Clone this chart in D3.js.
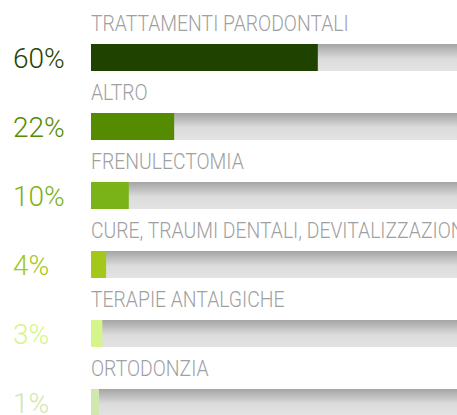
<!DOCTYPE html>
<html>
<head>
<meta charset="utf-8">
<script src="https://cdn.jsdelivr.net/npm/d3@7"></script>
<style>
  body { margin: 0; background: #fff; }
  svg { display: block; }
</style>
</head>
<body>
<div id="chart"></div>
<script>
var categories = ["TRATTAMENTI PARODONTALI", "ALTRO", "FRENULECTOMIA",
    "CURE, TRAUMI DENTALI, DEVITALIZZAZIONI", "TERAPIE ANTALGICHE", "ORTODONZIA"]
var values = [60, 22, 10, 4, 3, 1]
var valueLabels = ["60%", "22%", "10%", "4%", "3%", "1%"]
var colors = ["#1f4200", "#558b00", "#7ab317", "#a3c81a", "#d5f58a", "#cfe8b0"]

var width = 457
var height = 415
var margin = ({ top: 13, left: 91 })

var svg = d3.select("#chart")
    .append("svg")
    .attr("width", width)
    .attr("height", height)

// gradient of the grey track
var grad = svg.append("defs").append("linearGradient")
    .attr("id", "track")
    .attr("x1", 0).attr("y1", 0).attr("x2", 0).attr("y2", 1)
grad.append("stop").attr("offset", "0%").attr("stop-color", "#a4a4a4")
grad.append("stop").attr("offset", "55%").attr("stop-color", "#dcdcdc")
grad.append("stop").attr("offset", "100%").attr("stop-color", "#e3e3e3")

var yscale = d3.scaleBand()
    .domain(categories)
    .range([margin.top, margin.top + 69 * categories.length])

var xscale = d3.scaleLinear()
    .domain([0, 100])
    .range([0, 378])

var barTop = 31
var barHeight = 27

var row = svg.selectAll("g.row")
    .data(categories)
    .enter()
    .append("g")
    .attr("class", "row")
    .attr("transform", d => "translate(0," + yscale(d) + ")")

// track
row.append("rect")
    .attr("x", margin.left)
    .attr("y", barTop)
    .attr("width", xscale(100))
    .attr("height", barHeight)
    .attr("fill", "url(#track)")

// value bar (tiny values get a minimum visible width)
row.append("rect")
    .attr("x", margin.left)
    .attr("y", barTop)
    .attr("width", (d, i) => Math.max(8, xscale(values[i])))
    .attr("height", barHeight)
    .attr("fill", (d, i) => colors[i])

// category label
row.append("text")
    .attr("transform", "translate(" + margin.left + "," + (barTop - 13) + ") scale(0.88,1)")
    .attr("font-family", "Roboto")
    .attr("font-weight", 300)
    .attr("font-size", "22px")
    .attr("fill", "#a0a0a0")
    .text(d => d)

// percent label
row.append("text")
    .attr("x", 13)
    .attr("y", barTop + 24)
    .attr("font-family", "Roboto")
    .attr("font-weight", 300)
    .attr("font-size", "28px")
    .attr("fill", (d, i) => colors[i])
    .text((d, i) => valueLabels[i])
</script>
</body>
</html>
